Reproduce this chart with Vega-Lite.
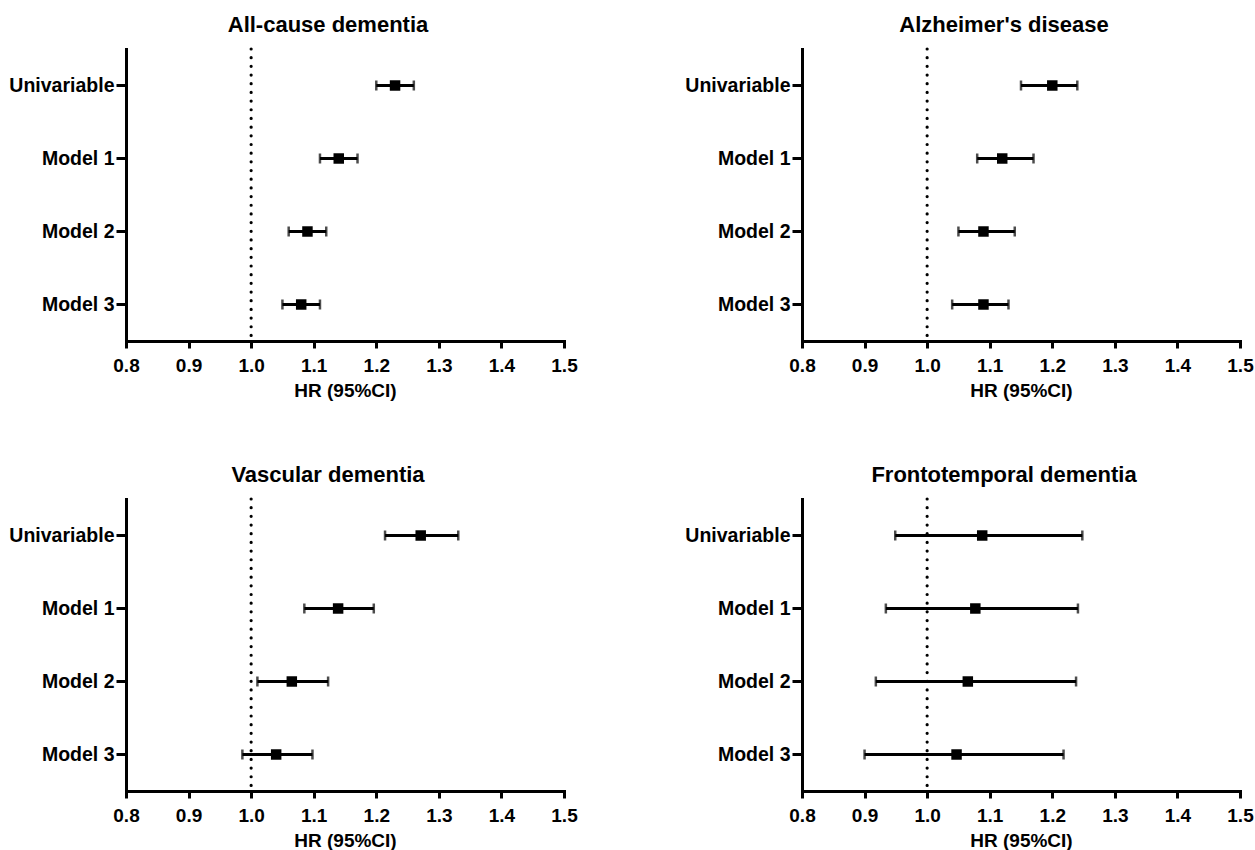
{
  "$schema": "https://vega.github.io/schema/vega-lite/v6.json",
  "background": "white",
  "padding": {"left": 8, "top": 14, "right": 0, "bottom": 0},
  "datasets": {
    "hr": [
      {"outcome": "All-cause dementia", "model": "Univariable", "hr": 1.23, "lo": 1.20, "hi": 1.26},
      {"outcome": "All-cause dementia", "model": "Model 1", "hr": 1.14, "lo": 1.11, "hi": 1.17},
      {"outcome": "All-cause dementia", "model": "Model 2", "hr": 1.09, "lo": 1.06, "hi": 1.12},
      {"outcome": "All-cause dementia", "model": "Model 3", "hr": 1.08, "lo": 1.05, "hi": 1.11},
      {"outcome": "Alzheimer's disease", "model": "Univariable", "hr": 1.20, "lo": 1.15, "hi": 1.24},
      {"outcome": "Alzheimer's disease", "model": "Model 1", "hr": 1.12, "lo": 1.08, "hi": 1.17},
      {"outcome": "Alzheimer's disease", "model": "Model 2", "hr": 1.09, "lo": 1.05, "hi": 1.14},
      {"outcome": "Alzheimer's disease", "model": "Model 3", "hr": 1.09, "lo": 1.04, "hi": 1.13},
      {"outcome": "Vascular dementia", "model": "Univariable", "hr": 1.271, "lo": 1.214, "hi": 1.331},
      {"outcome": "Vascular dementia", "model": "Model 1", "hr": 1.139, "lo": 1.085, "hi": 1.196},
      {"outcome": "Vascular dementia", "model": "Model 2", "hr": 1.065, "lo": 1.010, "hi": 1.123},
      {"outcome": "Vascular dementia", "model": "Model 3", "hr": 1.040, "lo": 0.986, "hi": 1.098},
      {"outcome": "Frontotemporal dementia", "model": "Univariable", "hr": 1.088, "lo": 0.949, "hi": 1.248},
      {"outcome": "Frontotemporal dementia", "model": "Model 1", "hr": 1.077, "lo": 0.934, "hi": 1.241},
      {"outcome": "Frontotemporal dementia", "model": "Model 2", "hr": 1.065, "lo": 0.918, "hi": 1.238},
      {"outcome": "Frontotemporal dementia", "model": "Model 3", "hr": 1.047, "lo": 0.900, "hi": 1.218}
    ],
    "ref": [
      {"outcome": "All-cause dementia", "ref": 1.0},
      {"outcome": "Alzheimer's disease", "ref": 1.0},
      {"outcome": "Vascular dementia", "ref": 1.0},
      {"outcome": "Frontotemporal dementia", "ref": 1.0}
    ]
  },
  "config": {
    "font": "Liberation Sans",
    "view": {"stroke": null},
    "axis": {
      "domainColor": "black", "domainWidth": 3, "domainCap": "square",
      "tickColor": "black", "tickWidth": 3,
      "labelColor": "black", "labelFont": "Liberation Sans", "labelFontWeight": "bold", "labelFontSize": 19,
      "titleColor": "black", "titleFont": "Liberation Sans", "titleFontWeight": "bold", "titleFontSize": 19,
      "grid": false
    },
    "axisX": {"tickSize": 7, "labelPadding": 8, "titlePadding": 6, "labelFlush": false, "labelOverlap": false},
    "axisY": {"tickSize": 10, "labelPadding": 2, "labelFontSize": 19.5, "minExtent": 118, "maxExtent": 118},
    "title": {"fontSize": 22, "fontWeight": "bold", "color": "black", "font": "Liberation Sans", "offset": 10, "dx": -17}
  },
  "spacing": 64,
  "vconcat": [
    {
      "spacing": 106,
      "hconcat": [
        {
          "title": "All-cause dementia",
          "width": 438, "height": 292,
          "layer": [
            {
              "data": {"name": "ref"},
              "transform": [{"filter": "datum.outcome === 'All-cause dementia'"}],
              "mark": {"type": "rule", "strokeDash": [0.01, 8.67], "strokeCap": "round", "strokeWidth": 3.2, "color": "black"},
              "encoding": {"x": {"field": "ref", "type": "quantitative", "scale": {"domain": [0.8, 1.5], "nice": false, "zero": false}, "axis": {"values": [0.8, 0.9, 1.0, 1.1, 1.2, 1.3, 1.4, 1.5], "format": ".1f", "title": "HR (95%CI)"}}}
            },
            {
              "data": {"name": "hr"},
              "transform": [{"filter": "datum.outcome === 'All-cause dementia'"}],
              "layer": [
                {"mark": {"type": "rule", "strokeWidth": 3, "color": "black"},
                 "encoding": {"x": {"field": "lo", "type": "quantitative"}, "x2": {"field": "hi"}, "y": {"field": "model", "type": "nominal", "sort": ["Univariable", "Model 1", "Model 2", "Model 3"], "scale": {"type": "band", "paddingInner": 0, "paddingOuter": 0}, "axis": {"title": null}}}},
                {"mark": {"type": "tick", "orient": "vertical", "size": 10, "thickness": 2.5, "color": "black"},
                 "encoding": {"x": {"field": "lo", "type": "quantitative"}, "y": {"field": "model", "type": "nominal", "sort": ["Univariable", "Model 1", "Model 2", "Model 3"]}}},
                {"mark": {"type": "tick", "orient": "vertical", "size": 10, "thickness": 2.5, "color": "black"},
                 "encoding": {"x": {"field": "hi", "type": "quantitative"}, "y": {"field": "model", "type": "nominal", "sort": ["Univariable", "Model 1", "Model 2", "Model 3"]}}},
                {"mark": {"type": "square", "size": 110, "filled": true, "opacity": 1, "color": "black"},
                 "encoding": {"x": {"field": "hr", "type": "quantitative"}, "y": {"field": "model", "type": "nominal", "sort": ["Univariable", "Model 1", "Model 2", "Model 3"]}}}
              ]
            }
          ]
        },
        {
          "title": "Alzheimer's disease",
          "width": 438, "height": 292,
          "layer": [
            {
              "data": {"name": "ref"},
              "transform": [{"filter": "datum.outcome === \"Alzheimer's disease\""}],
              "mark": {"type": "rule", "strokeDash": [0.01, 8.67], "strokeCap": "round", "strokeWidth": 3.2, "color": "black"},
              "encoding": {"x": {"field": "ref", "type": "quantitative", "scale": {"domain": [0.8, 1.5], "nice": false, "zero": false}, "axis": {"values": [0.8, 0.9, 1.0, 1.1, 1.2, 1.3, 1.4, 1.5], "format": ".1f", "title": "HR (95%CI)"}}}
            },
            {
              "data": {"name": "hr"},
              "transform": [{"filter": "datum.outcome === \"Alzheimer's disease\""}],
              "layer": [
                {"mark": {"type": "rule", "strokeWidth": 3, "color": "black"},
                 "encoding": {"x": {"field": "lo", "type": "quantitative"}, "x2": {"field": "hi"}, "y": {"field": "model", "type": "nominal", "sort": ["Univariable", "Model 1", "Model 2", "Model 3"], "scale": {"type": "band", "paddingInner": 0, "paddingOuter": 0}, "axis": {"title": null}}}},
                {"mark": {"type": "tick", "orient": "vertical", "size": 10, "thickness": 2.5, "color": "black"},
                 "encoding": {"x": {"field": "lo", "type": "quantitative"}, "y": {"field": "model", "type": "nominal", "sort": ["Univariable", "Model 1", "Model 2", "Model 3"]}}},
                {"mark": {"type": "tick", "orient": "vertical", "size": 10, "thickness": 2.5, "color": "black"},
                 "encoding": {"x": {"field": "hi", "type": "quantitative"}, "y": {"field": "model", "type": "nominal", "sort": ["Univariable", "Model 1", "Model 2", "Model 3"]}}},
                {"mark": {"type": "square", "size": 110, "filled": true, "opacity": 1, "color": "black"},
                 "encoding": {"x": {"field": "hr", "type": "quantitative"}, "y": {"field": "model", "type": "nominal", "sort": ["Univariable", "Model 1", "Model 2", "Model 3"]}}}
              ]
            }
          ]
        }
      ]
    },
    {
      "spacing": 106,
      "hconcat": [
        {
          "title": "Vascular dementia",
          "width": 438, "height": 292,
          "layer": [
            {
              "data": {"name": "ref"},
              "transform": [{"filter": "datum.outcome === 'Vascular dementia'"}],
              "mark": {"type": "rule", "strokeDash": [0.01, 8.67], "strokeCap": "round", "strokeWidth": 3.2, "color": "black"},
              "encoding": {"x": {"field": "ref", "type": "quantitative", "scale": {"domain": [0.8, 1.5], "nice": false, "zero": false}, "axis": {"values": [0.8, 0.9, 1.0, 1.1, 1.2, 1.3, 1.4, 1.5], "format": ".1f", "title": "HR (95%CI)"}}}
            },
            {
              "data": {"name": "hr"},
              "transform": [{"filter": "datum.outcome === 'Vascular dementia'"}],
              "layer": [
                {"mark": {"type": "rule", "strokeWidth": 3, "color": "black"},
                 "encoding": {"x": {"field": "lo", "type": "quantitative"}, "x2": {"field": "hi"}, "y": {"field": "model", "type": "nominal", "sort": ["Univariable", "Model 1", "Model 2", "Model 3"], "scale": {"type": "band", "paddingInner": 0, "paddingOuter": 0}, "axis": {"title": null}}}},
                {"mark": {"type": "tick", "orient": "vertical", "size": 10, "thickness": 2.5, "color": "black"},
                 "encoding": {"x": {"field": "lo", "type": "quantitative"}, "y": {"field": "model", "type": "nominal", "sort": ["Univariable", "Model 1", "Model 2", "Model 3"]}}},
                {"mark": {"type": "tick", "orient": "vertical", "size": 10, "thickness": 2.5, "color": "black"},
                 "encoding": {"x": {"field": "hi", "type": "quantitative"}, "y": {"field": "model", "type": "nominal", "sort": ["Univariable", "Model 1", "Model 2", "Model 3"]}}},
                {"mark": {"type": "square", "size": 110, "filled": true, "opacity": 1, "color": "black"},
                 "encoding": {"x": {"field": "hr", "type": "quantitative"}, "y": {"field": "model", "type": "nominal", "sort": ["Univariable", "Model 1", "Model 2", "Model 3"]}}}
              ]
            }
          ]
        },
        {
          "title": "Frontotemporal dementia",
          "width": 438, "height": 292,
          "layer": [
            {
              "data": {"name": "ref"},
              "transform": [{"filter": "datum.outcome === 'Frontotemporal dementia'"}],
              "mark": {"type": "rule", "strokeDash": [0.01, 8.67], "strokeCap": "round", "strokeWidth": 3.2, "color": "black"},
              "encoding": {"x": {"field": "ref", "type": "quantitative", "scale": {"domain": [0.8, 1.5], "nice": false, "zero": false}, "axis": {"values": [0.8, 0.9, 1.0, 1.1, 1.2, 1.3, 1.4, 1.5], "format": ".1f", "title": "HR (95%CI)"}}}
            },
            {
              "data": {"name": "hr"},
              "transform": [{"filter": "datum.outcome === 'Frontotemporal dementia'"}],
              "layer": [
                {"mark": {"type": "rule", "strokeWidth": 3, "color": "black"},
                 "encoding": {"x": {"field": "lo", "type": "quantitative"}, "x2": {"field": "hi"}, "y": {"field": "model", "type": "nominal", "sort": ["Univariable", "Model 1", "Model 2", "Model 3"], "scale": {"type": "band", "paddingInner": 0, "paddingOuter": 0}, "axis": {"title": null}}}},
                {"mark": {"type": "tick", "orient": "vertical", "size": 10, "thickness": 2.5, "color": "black"},
                 "encoding": {"x": {"field": "lo", "type": "quantitative"}, "y": {"field": "model", "type": "nominal", "sort": ["Univariable", "Model 1", "Model 2", "Model 3"]}}},
                {"mark": {"type": "tick", "orient": "vertical", "size": 10, "thickness": 2.5, "color": "black"},
                 "encoding": {"x": {"field": "hi", "type": "quantitative"}, "y": {"field": "model", "type": "nominal", "sort": ["Univariable", "Model 1", "Model 2", "Model 3"]}}},
                {"mark": {"type": "square", "size": 110, "filled": true, "opacity": 1, "color": "black"},
                 "encoding": {"x": {"field": "hr", "type": "quantitative"}, "y": {"field": "model", "type": "nominal", "sort": ["Univariable", "Model 1", "Model 2", "Model 3"]}}}
              ]
            }
          ]
        }
      ]
    }
  ]
}
